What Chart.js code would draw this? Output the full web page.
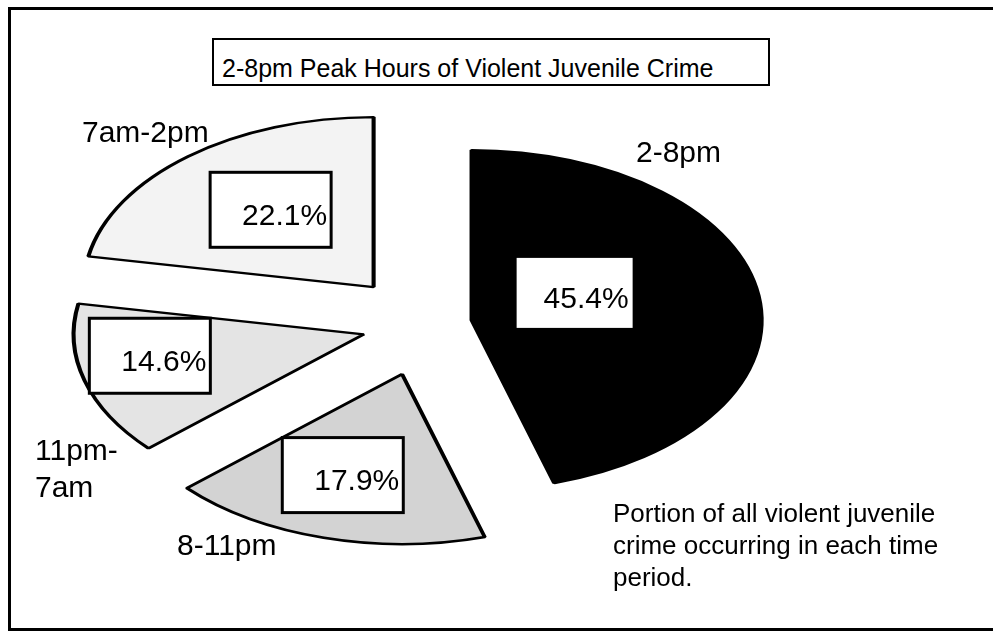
<!DOCTYPE html>
<html lang="en">
<head>
  <meta charset="UTF-8">
  <title>2-8pm Peak Hours of Violent Juvenile Crime</title>
  <script src="https://cdn.jsdelivr.net/npm/chart.js"></script>
  <style>
    * { box-sizing: border-box; margin: 0; padding: 0; }
    body {
      width: 993px;
      height: 636px;
      overflow: hidden;
      background: #fff;
      font-family: 'Liberation Sans', Arial, sans-serif;
      color: #000;
      position: relative;
    }
    .frame {
      position: absolute;
      left: 8px;
      top: 7px;
      width: 1000px;
      height: 624px;
      border: 3px solid #000;
      border-right: none;
    }
    .wrap {
      position: absolute;
      left: 0;
      top: 0;
      width: 993px;
      height: 636px;
    }
    .title {
      position: absolute;
      left: 212px;
      top: 38px;
      width: 558px;
      height: 48px;
      border: 2px solid #000;
      padding: 16px 0 0 8px;
      font-size: 25px;
      line-height: 25px;
      white-space: nowrap;
      background: #fff;
    }
    .note {
      position: absolute;
      left: 613px;
      top: 497px;
      font-size: 26px;
      line-height: 32px;
      white-space: nowrap;
    }
  </style>
</head>
<body>
  <div class="frame"></div>
  <div class="wrap"><canvas id="pie"></canvas></div>
  <div class="title">2-8pm Peak Hours of Violent Juvenile Crime</div>
  <div class="note">Portion of all violent juvenile<br>crime occurring in each time<br>period.</div>

  <script>
    // clockwise from 12 o'clock
    const periods = ['2-8pm', '8-11pm', ['11pm-', '7am'], '7am-2pm'];
    const shares = [45.4, 17.9, 14.6, 22.1];

    const fills = ['#000000', '#d3d3d3', '#e4e4e4', '#f3f3f3'];
    const explode = [27, 52, 38, 48];
    const stretchX = 1.706;
    const labelPos = [[636, 162], [177, 555], [35, 460], [82, 142]];
    const boxDist = [64, 107, 126, 98];
    const boxNudge = [[-5, -18], [-10, -2], [-7, -13], [4, -2]];

    function vertexOf(arc, i) {
      const mid = (arc.startAngle + arc.endAngle) / 2;
      return {
        x: arc.x + stretchX * Math.cos(mid) * explode[i],
        y: arc.y + Math.sin(mid) * explode[i],
        mid: mid
      };
    }

    // squash the pie into the flat ellipse of the original and pull the slices apart
    const ellipsePie = {
      id: 'ellipsePie',
      beforeDatasetsDraw(chart) {
        const ctx = chart.ctx;
        chart.getDatasetMeta(0).data.forEach((arc, i) => {
          const mid = (arc.startAngle + arc.endAngle) / 2;
          ctx.save();
          ctx.translate(arc.x, arc.y);
          ctx.scale(stretchX, 1);
          ctx.translate(Math.cos(mid) * explode[i], Math.sin(mid) * explode[i]);
          ctx.translate(-arc.x, -arc.y);
          arc.draw(ctx);
          ctx.restore();
        });
        return false;
      },
      afterDraw(chart) {
        const ctx = chart.ctx;
        ctx.save();
        ctx.font = "30px 'Liberation Sans', Arial, sans-serif";
        ctx.textBaseline = 'alphabetic';
        ctx.fillStyle = '#000';

        // period names
        ctx.textAlign = 'left';
        periods.forEach((name, i) => {
          const lines = Array.isArray(name) ? name : [name];
          lines.forEach((ln, j) => ctx.fillText(ln, labelPos[i][0], labelPos[i][1] + j * 37));
        });

        // percentage boxes
        chart.getDatasetMeta(0).data.forEach((arc, i) => {
          const v = vertexOf(arc, i);
          const cx = v.x + stretchX * Math.cos(v.mid) * boxDist[i] + boxNudge[i][0];
          const cy = v.y + Math.sin(v.mid) * boxDist[i] + boxNudge[i][1];
          const dark = fills[i] === '#000000';
          const w = dark ? 116 : 121;
          const h = dark ? 70 : 75;
          ctx.fillStyle = '#fff';
          ctx.fillRect(cx - w / 2, cy - h / 2, w, h);
          if (!dark) {
            ctx.lineWidth = 3;
            ctx.strokeStyle = '#000';
            ctx.strokeRect(cx - w / 2, cy - h / 2, w, h);
          }
          ctx.fillStyle = '#000';
          ctx.textAlign = 'right';
          ctx.fillText(shares[i].toFixed(1) + '%', cx + w / 2 - 4, cy + 15);
        });
        ctx.restore();
      }
    };

    new Chart(document.getElementById('pie'), {
      type: 'pie',
      data: {
        labels: periods,
        datasets: [{
          data: shares,
          backgroundColor: fills,
          borderColor: '#000',
          borderWidth: 2.4,
          clip: false
        }]
      },
      options: {
        responsive: true,
        maintainAspectRatio: false,
        animation: false,
        radius: 170,
        layout: { padding: { left: 0, right: 141, top: 12, bottom: 0 } },
        plugins: {
          legend: { display: false },
          tooltip: { enabled: false }
        }
      },
      plugins: [ellipsePie]
    });
  </script>
</body>
</html>
